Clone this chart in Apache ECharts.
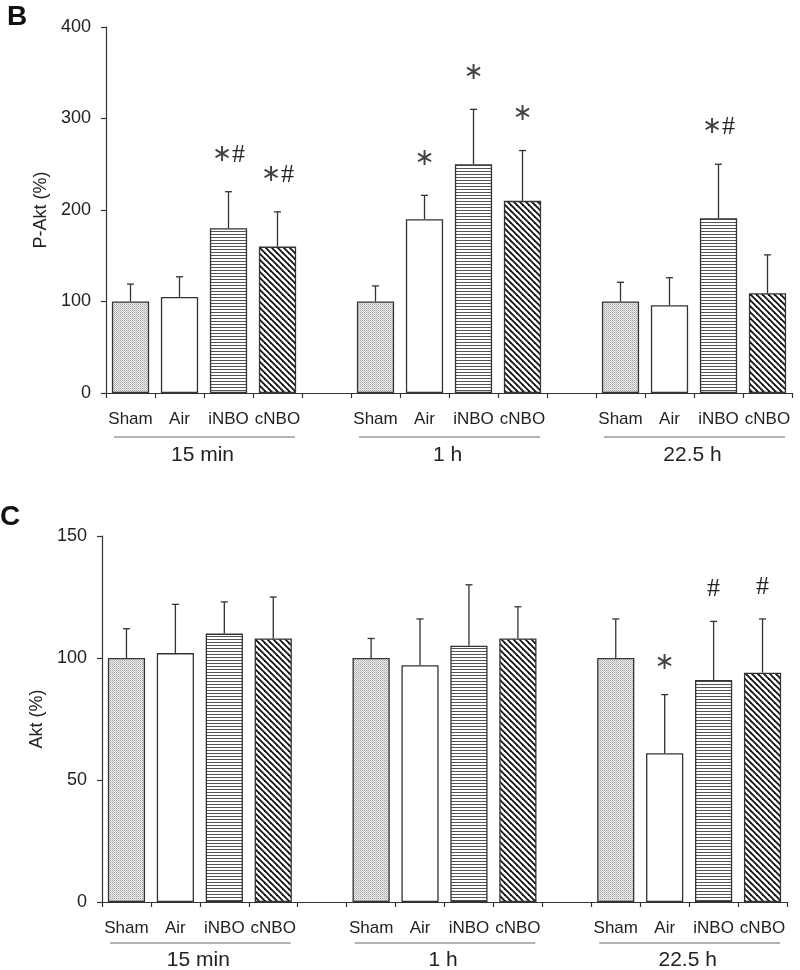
<!DOCTYPE html>
<html><head><meta charset="utf-8">
<script src="https://cdn.jsdelivr.net/npm/echarts@6/dist/echarts.min.js"></script>
<style>html,body{margin:0;padding:0;background:#fff}#c{width:800px;height:970px}</style>
</head><body><div id="c"></div>
<script>
// ---------- data ----------
const categories = ['Sham','Air','iNBO','cNBO','','Sham','Air','iNBO','cNBO','','Sham','Air','iNBO','cNBO'];
const groupLabels = ['15 min','1 h','22.5 h'];
const groupStart = [0,5,10];
const groupEnd = [3,8,13];

const pAktMean = [100,105,180,160,null, 100,190,250,210,null, 100,96,191,109];
const pAktErr  = [19,22,40,38,null, 17,26,60,55,null, 21,30,59,42];
const pAktSig  = ['','','*#','*#','', '','*','*','*','', '','','*#',''];
const pAktTicks = [0,100,200,300,400];

const aktMean = [100,102,110,108,null, 100,97,105,108,null, 100,61,91,94];
const aktErr  = [12,20,13,17,null, 8,19,25,13,null, 16,24,24,22];
const aktSig  = ['','','','','', '','','','','', '','*','#','#'];
const aktTicks = [0,50,100,150];

// ---------- patterns ----------
function mk(w,h,draw){const c=document.createElement('canvas');c.width=w;c.height=h;const g=c.getContext('2d');draw(g,w,h);return {image:c,repeat:'repeat'};}
const patStipple = mk(2,2,(g)=>{g.fillStyle='#ececec';g.fillRect(0,0,2,2);g.fillStyle='#a8a8a8';g.fillRect(0,0,1,1);g.fillStyle='#c4c4c4';g.fillRect(1,1,1,1);});
const patHoriz = mk(4,3,(g)=>{g.fillStyle='#fff';g.fillRect(0,0,4,3);g.fillStyle='#555';g.fillRect(0,0,4,1);});
const patDiag = mk(6,6,(g)=>{g.fillStyle='#fff';g.fillRect(0,0,6,6);g.strokeStyle='#111';g.lineWidth=1.8;
  for(const k of [-6,0,6]){g.beginPath();g.moveTo(k-1,-1);g.lineTo(k+7,7);g.stroke();}});
const fills = {Sham:patStipple, Air:'#ffffff', iNBO:patHoriz, cNBO:patDiag};

const FONT = '"Liberation Sans", Arial, sans-serif';
const chart = echarts.init(document.getElementById('c'), null, {renderer:'canvas'});

function barData(means){
  return means.map((m,i)=> m==null ? '-' : {value:m, itemStyle:{color:fills[categories[i]]}});
}
function errSeries(idx, means, errs, sigs, gap){
  const data = [];
  means.forEach((m,i)=>{ if(m!=null) data.push([i,m,errs[i]]); });
  return {
    type:'custom', xAxisIndex:idx, yAxisIndex:idx, z:5, clip:false, silent:true,
    data,
    renderItem:(params, api)=>{
      const i=api.value(0), m=api.value(1), e=api.value(2);
      const p0=api.coord([i,m]), p1=api.coord([i,m+e]);
      const ls={stroke:'#333', lineWidth:1.3};
      const ch=[
        {type:'line', shape:{x1:p0[0],y1:p0[1],x2:p1[0],y2:p1[1]}, style:ls},
        {type:'line', shape:{x1:p1[0]-3.5,y1:p1[1],x2:p1[0]+3.5,y2:p1[1]}, style:ls}
      ];
      const s=sigs[i];
      if(s){
        const t=s.split('').map(c=> c==='*' ? '{a|\u2217}' : '{h|#}').join('');
        ch.push({type:'text', x:p1[0], y:p1[1]-gap, style:{text:t, align:'center', verticalAlign:'middle',
          rich:{a:{fontFamily:'DejaVu Sans', fontSize:24, fill:'#444', fontWeight:'normal'},
                h:{fontFamily:'"Liberation Serif"', fontSize:26, fill:'#222'}}}});
      }
      return {type:'group', children:ch};
    }
  };
}
function groupSeries(idx, lineGap, textGap){
  return {
    type:'custom', xAxisIndex:idx, yAxisIndex:idx, clip:false, silent:true,
    data: groupStart.map((s,k)=>[s, groupEnd[k]]),
    renderItem:(params, api)=>{
      const k=params.dataIndex;
      const bw=api.size([1,0])[0];
      const a=api.coord([groupStart[k],0]), b=api.coord([groupEnd[k],0]);
      const x1=a[0]-bw/2+8, x2=b[0]+bw/2-7, y=a[1];
      return {type:'group', children:[
        {type:'line', shape:{x1, y1:y+lineGap, x2, y2:y+lineGap}, style:{stroke:'#666', lineWidth:1}},
        {type:'text', x:(x1+x2)/2-2, y:y+textGap, style:{text:groupLabels[k], align:'center', verticalAlign:'middle',
          font:'21px '+FONT, fill:'#222'}}
      ]};
    }
  };
}
function xAx(idx){
  return {type:'category', gridIndex:idx, data:categories, boundaryGap:true,
    axisLine:{lineStyle:{color:'#333', width:1.2}},
    axisTick:{show:true, length:5, alignWithLabel:false, interval:0, lineStyle:{color:'#333', width:1.2}},
    axisLabel:{interval:0, fontSize:17, color:'#222', fontFamily:FONT, margin:18},
    splitLine:{show:false}};
}
function yAx(idx, ticks, name){
  return {type:'value', gridIndex:idx, min:ticks[0], max:ticks[ticks.length-1], interval:ticks[1]-ticks[0],
    name, nameLocation:'middle', nameGap:54, nameRotate:90,
    nameTextStyle:{fontSize:18, color:'#222', fontFamily:FONT},
    axisLine:{show:true, lineStyle:{color:'#333', width:1.2}},
    axisTick:{show:true, length:5, lineStyle:{color:'#333', width:1.2}},
    axisLabel:{fontSize:18, color:'#222', fontFamily:FONT, margin:15},
    splitLine:{show:false}};
}

chart.setOption({
  animation:false,
  backgroundColor:'#fff',
  grid:[{left:106, top:27, width:686, height:366},
        {left:102, top:536, width:685, height:366}],
  xAxis:[xAx(0), xAx(1)],
  yAxis:[yAx(0, pAktTicks, 'P-Akt (%)'), yAx(1, aktTicks, 'Akt (%)')],
  graphic:[
    {type:'text', left:7, top:3, style:{text:'B', font:'bold 28px '+FONT, fill:'#111'}},
    {type:'text', left:0, top:503, style:{text:'C', font:'bold 28px '+FONT, fill:'#111'}}
  ],
  series:[
    {type:'bar', xAxisIndex:0, yAxisIndex:0, data:barData(pAktMean), barWidth:'76%',
     itemStyle:{borderColor:'#333', borderWidth:1.3}},
    errSeries(0, pAktMean, pAktErr, pAktSig, 37),
    groupSeries(0, 44, 62),
    {type:'bar', xAxisIndex:1, yAxisIndex:1, data:barData(aktMean), barWidth:'76%',
     itemStyle:{borderColor:'#333', borderWidth:1.3}},
    errSeries(1, aktMean, aktErr, aktSig, 32),
    groupSeries(1, 41, 58)
  ]
});
</script></body></html>
